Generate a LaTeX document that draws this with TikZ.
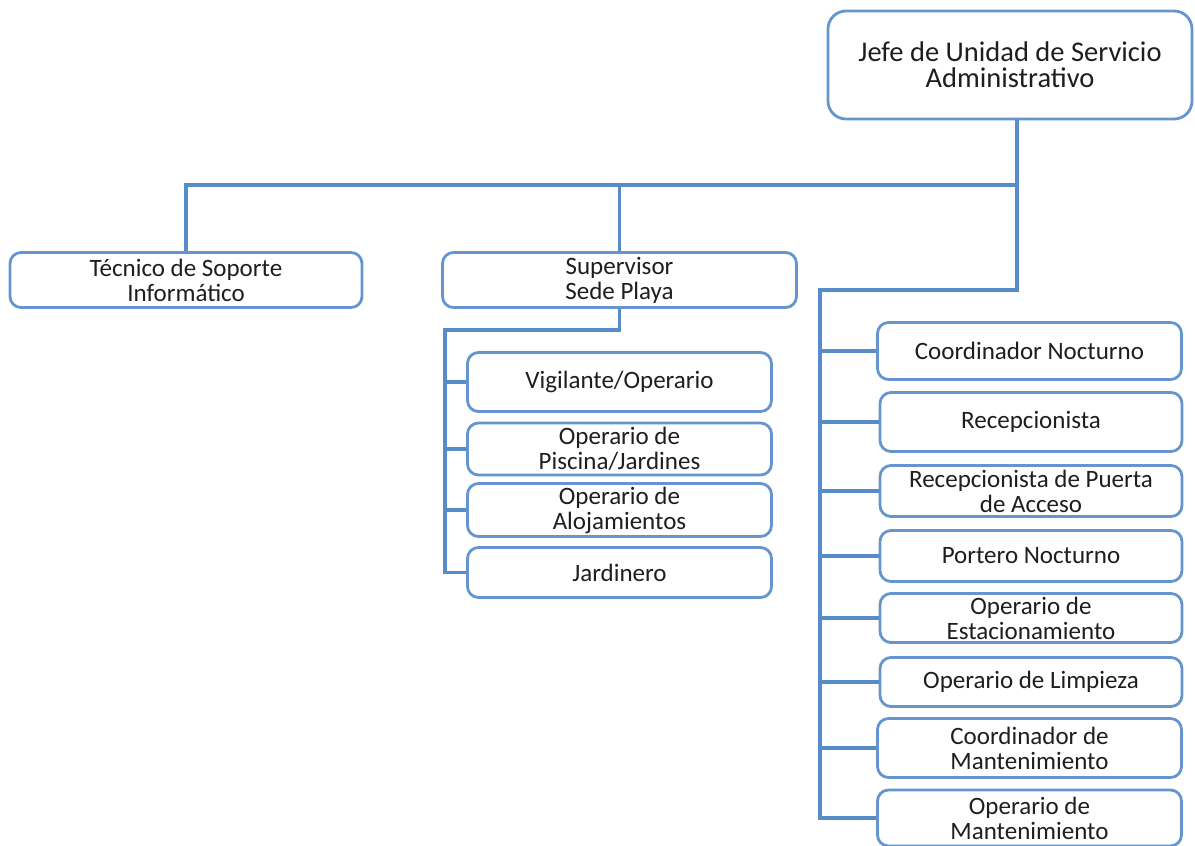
\documentclass[tikz,border=0pt]{standalone}
\usepackage{fontspec}
\setmainfont{Carlito}
\definecolor{lineblue}{RGB}{88,140,200}
\definecolor{boxblue}{RGB}{100,150,205}
\definecolor{txt}{RGB}{30,30,30}
\begin{document}
\begin{tikzpicture}[x=1pt,y=-1pt,
  box/.style={draw=boxblue, line width=2.8pt, rounded corners=11pt, fill=white,
    text=txt, align=center, inner sep=0pt, font=\fontsize{25}{25}\selectfont},
  conn/.style={draw=lineblue, line width=3.2pt}]
\useasboundingbox (0,0) rectangle (1195,846);
% top
\node[box, rounded corners=18pt, minimum width=364pt, minimum height=108pt,
  font=\fontsize{28.5}{26}\selectfont] (jefe) at (1010,65) {Jefe de Unidad de Servicio\\Administrativo};
% level 1
\node[box, minimum width=352pt, minimum height=55pt] (tec) at (186,280) {Técnico de Soporte\\Informático};
\node[box, minimum width=354pt, minimum height=55pt] (sup) at (619.5,280) {Supervisor\\Sede Playa};
% supervisor children
\node[box, minimum width=304pt, minimum height=59pt] (s1) at (619.5,382) {Vigilante/Operario};
\node[box, minimum width=304pt, minimum height=52pt] (s2) at (619.5,449) {Operario de\\Piscina/Jardines};
\node[box, minimum width=304pt, minimum height=53pt] (s3) at (619.5,510) {Operario de\\Alojamientos};
\node[box, minimum width=304pt, minimum height=50pt] (s4) at (619.5,572.5) {Jardinero};
% right column
\node[box, minimum width=304pt, minimum height=57pt] (c1) at (1029.5,351) {Coordinador Nocturno};
\node[box, minimum width=302pt, minimum height=59pt] (c2) at (1031,422) {Recepcionista};
\node[box, minimum width=302pt, minimum height=51pt] (c3) at (1031,491) {Recepcionista de Puerta\\de Acceso};
\node[box, minimum width=302pt, minimum height=51pt] (c4) at (1031,556) {Portero Nocturno};
\node[box, minimum width=302pt, minimum height=49pt] (c5) at (1031,618) {Operario de\\Estacionamiento};
\node[box, minimum width=302pt, minimum height=49pt] (c6) at (1031,682) {Operario de Limpieza};
\node[box, minimum width=304pt, minimum height=59pt] (c7) at (1029.5,748) {Coordinador de\\Mantenimiento};
\node[box, minimum width=304pt, minimum height=56pt] (c8) at (1029.5,818) {Operario de\\Mantenimiento};
% junction coordinates
\coordinate (jx) at (1017,185);
\coordinate (rt) at (820,290);
\coordinate (st) at (445,330);
% connectors
\draw[conn] (jx |- jefe.south) -- (jx) -- (jx |- rt) -- (rt) -- (rt |- c8.west) -- (c8.west);
\draw[conn] (tec.north) |- (jx);
\draw[conn] (sup.north) -- (sup.north |- jx);
\foreach \n in {c1,c2,c3,c4,c5,c6,c7}{\draw[conn] (rt |- \n.west) -- (\n.west);}
\draw[conn] (sup.south) |- (st) -- (st |- s4.west) -- (s4.west);
\foreach \n in {s1,s2,s3}{\draw[conn] (st |- \n.west) -- (\n.west);}
\end{tikzpicture}
\end{document}
